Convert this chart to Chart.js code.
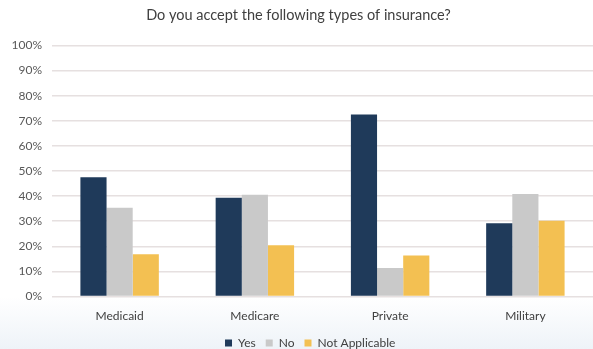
<!DOCTYPE html>
<html>
<head>
<meta charset="utf-8">
<script src="https://cdn.jsdelivr.net/npm/chart.js@4/dist/chart.umd.min.js"></script>
<style>
  html, body { margin: 0; padding: 0; background: #ffffff; }
  #wrap { width: 593px; height: 349px; }
</style>
</head>
<body>
<div id="wrap"><canvas id="c" width="593" height="349"></canvas></div>
<script>
const categories = ['Medicaid', 'Medicare', 'Private', 'Military'];
const yesValues = [47.5, 39.4, 72.5, 29.2];
const noValues = [35.4, 40.5, 11.4, 40.8];
const notApplicableValues = [16.9, 20.4, 16.4, 30.2];
const yTicks = [0, 10, 20, 30, 40, 50, 60, 70, 80, 90, 100];

const FONT = 'Lato, "Open Sans", "Liberation Sans", sans-serif';

// soft backdrop that fades to a pale blue-grey toward the bottom
const backdrop = {
  id: 'backdrop',
  beforeDraw(chart) {
    const { ctx, width, height } = chart;
    const g = ctx.createLinearGradient(0, 0, 0, height);
    g.addColorStop(0, '#ffffff');
    g.addColorStop(0.85, '#ffffff');
    g.addColorStop(1, '#eef3f8');
    ctx.save();
    ctx.fillStyle = g;
    ctx.fillRect(0, 0, width, height);
    ctx.restore();
  }
};

// centre the legend under the plot area rather than the whole canvas
const legendShift = {
  id: 'legendShift',
  afterLayout(chart) {
    const lg = chart.legend;
    if (!lg) return;
    const dx = ((chart.chartArea.left + chart.chartArea.right) / 2 - chart.width / 2) * 0.45;
    lg.left += dx;
    lg.right += dx;
  }
};

new Chart(document.getElementById('c'), {
  type: 'bar',
  data: {
    labels: categories,
    datasets: [
      { label: 'Yes', data: yesValues, backgroundColor: '#1f3a5a' },
      { label: 'No', data: noValues, backgroundColor: '#c9c9c9' },
      { label: 'Not Applicable', data: notApplicableValues, backgroundColor: '#f3c052' }
    ]
  },
  options: {
    responsive: false,
    animation: false,
    devicePixelRatio: 1,
    layout: { padding: { left: 4, right: 0, top: 6, bottom: -10 } },
    datasets: { bar: { categoryPercentage: 0.58, barPercentage: 1.0 } },
    scales: {
      x: {
        grid: { display: false },
        border: { display: false },
        ticks: { color: '#404040', font: { family: FONT, size: 12 }, padding: 4 }
      },
      y: {
        min: 0,
        max: 100,
        afterFit(scale) { scale.width = 48; },
        afterBuildTicks(scale) { scale.ticks = yTicks.map(v => ({ value: v })); },
        grid: { color: '#e6e0e0', lineWidth: 1.5, drawTicks: false },
        border: { display: false },
        ticks: {
          color: '#595959',
          font: { family: FONT, size: 12 },
          padding: 10,
          callback: v => v + '%'
        }
      }
    },
    plugins: {
      title: {
        display: true,
        text: 'Do you accept the following types of insurance?',
        color: '#404040',
        font: { family: FONT, size: 14.5, weight: 'normal' },
        padding: { top: 1, bottom: 21 }
      },
      legend: {
        position: 'bottom',
        labels: {
          color: '#404040',
          font: { family: FONT, size: 12 },
          boxWidth: 7,
          boxHeight: 7,
          padding: 10
        }
      },
      tooltip: { enabled: false }
    }
  },
  plugins: [backdrop, legendShift]
});
</script>
</body>
</html>
